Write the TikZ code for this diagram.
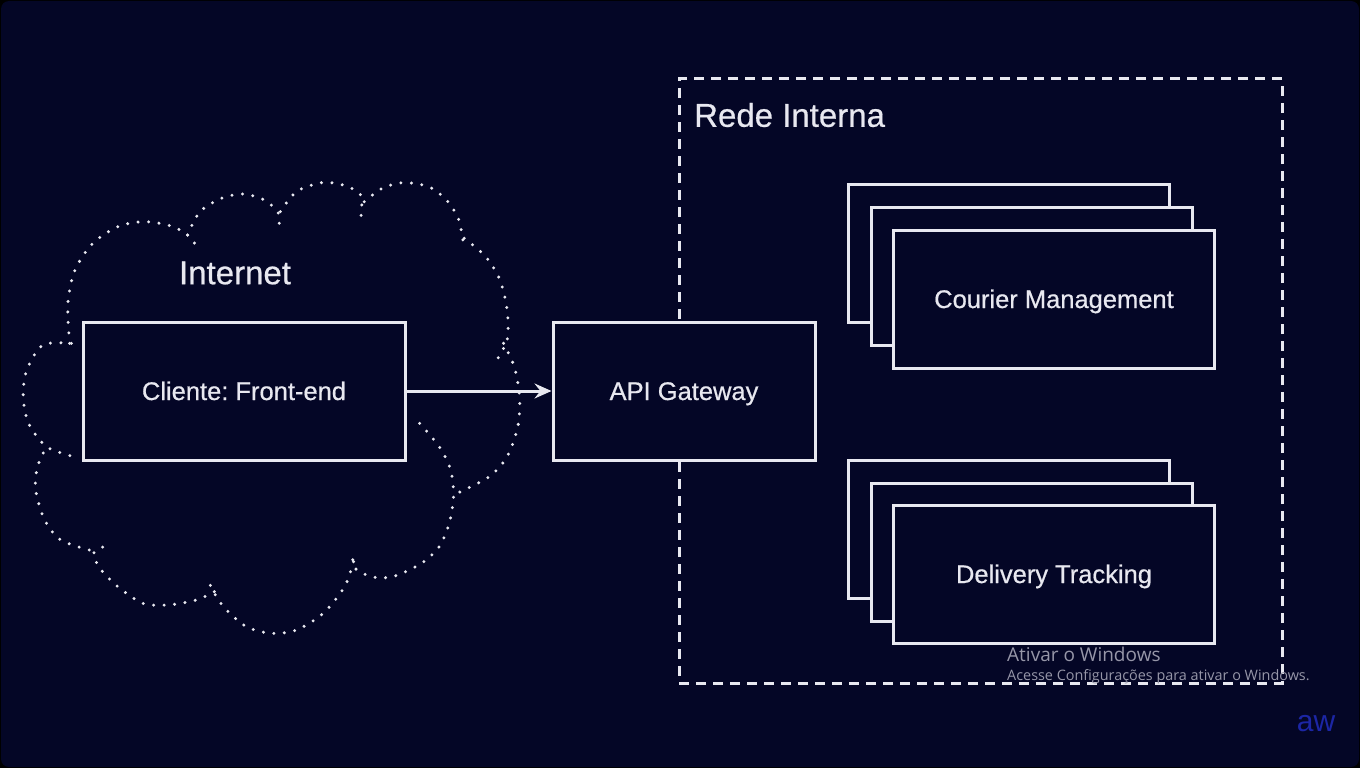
\documentclass[tikz,border=0pt]{standalone}
\usepackage{fontspec}
\setmainfont{Liberation Sans}
\newfontfamily\medfont[FakeBold=0.6]{Liberation Sans}
\newfontfamily\winfont{Open Sans}
\usetikzlibrary{arrows.meta}
\definecolor{bgnavy}{RGB}{4,6,38}
\definecolor{fg}{RGB}{232,232,240}
\definecolor{wm}{RGB}{150,150,168}
\definecolor{awblue}{RGB}{28,38,165}
\begin{document}
\frenchspacing
\begin{tikzpicture}[x=1pt,y=-1pt,
  box/.style={draw=fg, line width=3pt, fill=bgnavy, minimum width=#1, minimum height=138pt, inner sep=0pt, text=fg, text height=18pt, text depth=0pt, font=\medfont\fontsize{25.5}{28}\selectfont},
  stackbox/.style={box=321pt},
  clouddots/.style={draw=fg, line width=3.3pt, line cap=round, dash pattern=on 0pt off 10.5pt},
  zonedash/.style={draw=fg, line width=3pt, dash pattern=on 10pt off 7pt},
  title/.style={text=fg, font=\medfont\fontsize{33}{36}\selectfont, inner sep=0pt},
  wmtext/.style={text=wm, inner sep=0pt, anchor=west}]
\useasboundingbox (0,0) rectangle (1360,768);
\fill[black] (0,0) rectangle (1360,768);
\fill[bgnavy, rounded corners=8pt] (1,1) rectangle (1359,767);

% cloud (drawn as dotted lobes)
\begin{scope}[shift={(0,170)}, xscale=1/2.8, yscale=1/3]
  \draw[clouddots] plot[smooth] coordinates {(200,520) (120,525) (75,600) (65,680) (80,760) (130,830) (200,858)};
  \draw[clouddots] plot[smooth] coordinates {(195,520) (190,400) (210,300) (260,220) (330,170) (400,155) (470,165) (520,190) (545,220)};
  \draw[clouddots] plot[smooth] coordinates {(525,195) (560,125) (620,85) (680,72) (740,90) (780,130) (780,178)};
  \draw[clouddots] plot[smooth] coordinates {(785,125) (830,65) (900,38) (960,45) (1010,75) (1010,145)};
  \draw[clouddots] plot[smooth] coordinates {(1020,95) (1070,55) (1130,38) (1200,50) (1250,90) (1285,150) (1300,240)};
  \draw[clouddots] plot[smooth] coordinates {(1300,205) (1360,260) (1400,330) (1420,420) (1420,510) (1385,580)};
  \draw[clouddots] plot[smooth] coordinates {(1410,520) (1440,590) (1455,680) (1450,770) (1420,860) (1370,920) (1280,970)};
  \draw[clouddots] plot[smooth] coordinates {(1175,760) (1230,830) (1262,900) (1270,980) (1258,1060) (1230,1130) (1180,1180) (1100,1220) (1040,1220) (990,1190) (992,1140)};
  \draw[clouddots] plot[smooth] coordinates {(990,1175) (965,1250) (905,1330) (830,1380) (760,1390) (690,1370) (630,1315) (595,1260) (582,1222)};
  \draw[clouddots] plot[smooth] coordinates {(600,1265) (550,1290) (470,1305) (400,1300) (330,1250) (280,1195) (262,1150) (290,1130)};
  \draw[clouddots] plot[smooth] coordinates {(250,1140) (170,1110) (125,1050) (100,960) (105,890) (130,830)};
\end{scope}

% internal network zone
\node[zonedash, minimum width=603pt, minimum height=604pt, inner sep=0pt] (rede) at (980.5,381) {};
\node[title, anchor=west] (redelabel) at (694,115) {Rede Interna};
\node[title] (internetlabel) at (235,273) {Internet};

% main boxes
\node[box=322pt] (cliente) at (244,391) {Cliente: Front-end};
\node[box=262pt] (api) at (684,391) {API Gateway};

% courier management stack
\node[stackbox] (cm1) at (1008.5,253.5) {};
\node[stackbox] (cm2) at (1031.5,276.5) {};
\node[stackbox] (cm3) at (1054,299) {Courier Management};

% delivery tracking stack
\node[stackbox] (dt1) at (1008.5,529) {};
\node[stackbox] (dt2) at (1031.5,552) {};
\node[stackbox] (dt3) at (1054,574) {Delivery Tracking};

% connector
\draw[fg, line width=3pt, -{Stealth[length=17pt,width=15pt,inset=6pt]}] (cliente.east) -- (api.west);

% watermark
\node[wmtext, font=\winfont\fontsize{19}{22}\selectfont] (wm1) at (1007,654) {Ativar o Windows};
\node[wmtext, font=\winfont\fontsize{14.4}{16}\selectfont] (wm2) at (1007,677) {Acesse Configurações para ativar o Windows.};
\node[text=awblue, font=\fontsize{30}{30}\selectfont, inner sep=0pt] (aw) at (1316,724) {aw};
\end{tikzpicture}
\end{document}
